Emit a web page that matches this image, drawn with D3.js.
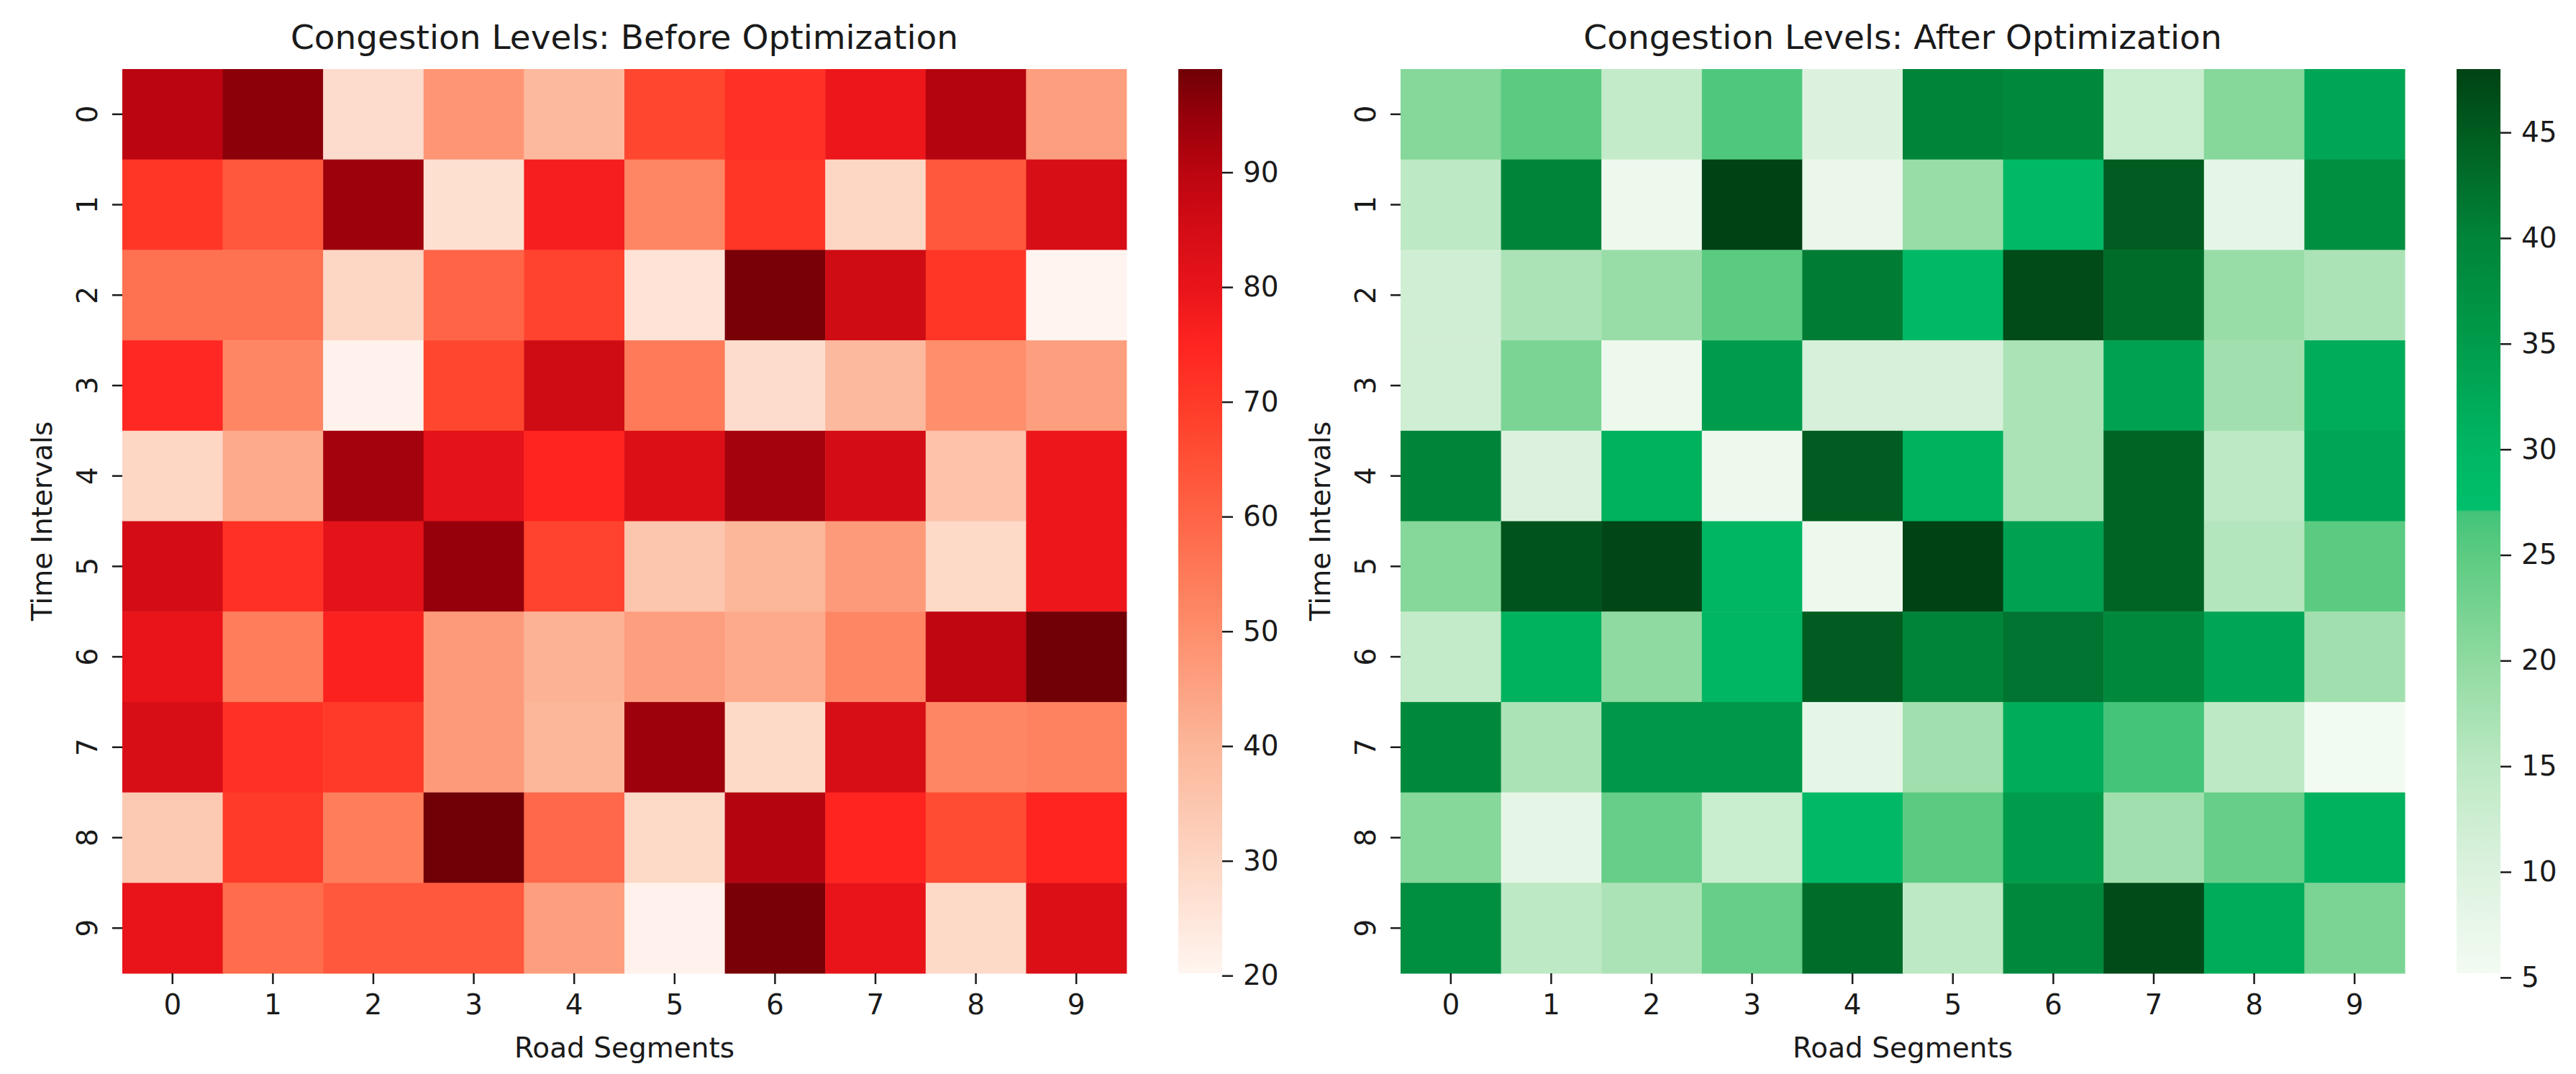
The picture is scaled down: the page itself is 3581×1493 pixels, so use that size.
<!DOCTYPE html>
<html>
<head>
<meta charset="utf-8">
<script src="https://cdn.jsdelivr.net/npm/d3@7"></script>
<style>
  body { margin: 0; background: #fff; }
  text { font-family: "DejaVu Sans", sans-serif; fill: #1a1a1a; }
</style>
</head>
<body>
<div id="chart"></div>
<script>
// Dados
var segments = [0, 1, 2, 3, 4, 5, 6, 7, 8, 9];
var intervals = [0, 1, 2, 3, 4, 5, 6, 7, 8, 9];

var before = [
  [90, 96, 28, 48, 39, 67, 72, 79, 91, 46],
  [71, 63, 94, 27, 77, 52, 71, 30, 63, 84],
  [57, 57, 30, 60, 68, 26, 98, 86, 71, 20.2],
  [74, 52, 21, 67, 86, 55, 28, 39, 50, 46],
  [30, 43, 93, 81, 75, 83, 93, 85, 36, 79],
  [85, 72, 81, 95, 68, 35, 40, 47, 29, 79],
  [80, 54, 76, 47, 41, 46, 43, 52, 89, 99],
  [84, 72, 70, 47, 40, 94, 29, 84, 52, 53],
  [34, 70, 54, 99, 59, 29, 91, 75, 66, 75],
  [80, 58, 63, 63, 46, 21, 98, 80, 29, 83]
];

var after = [
  [21, 25, 14, 26, 10, 40, 39, 13, 21, 33],
  [15, 40, 6, 48, 7, 19, 29, 45, 8, 38],
  [12, 17, 19, 25, 41, 29, 47, 43, 19, 17],
  [12, 22, 6, 35, 11, 11, 17, 34, 18, 32],
  [40, 10, 31, 6, 45, 31, 17, 44, 15, 33],
  [21, 46, 47.5, 30, 6, 48, 34, 44, 16, 25],
  [14, 31, 20, 30, 45, 40, 42, 39, 33, 18],
  [39, 17, 36, 36, 8, 18, 32, 27, 15, 5.2],
  [21, 8, 24, 13, 29, 25, 35, 18, 24, 31],
  [38, 15, 17, 24, 43, 15, 39, 47, 32, 22]
];

var beforeTicks = [20, 30, 40, 50, 60, 70, 80, 90];
var afterTicks = [5, 10, 15, 20, 25, 30, 35, 40, 45];

// Escalas de cor (amostradas da barra de cores)
var redStops = [20, 25, 30, 35, 40, 45, 50, 55, 60, 65, 70, 75, 80, 85, 90, 95, 99];
var redColors = ["#fff5f0", "#fee6da", "#fdd6c4", "#fcc6ae", "#fcb699", "#fda283", "#fe8e6c",
  "#fe7a58", "#ff6446", "#ff5036", "#ff3a28", "#ff2420", "#e8141a", "#d40c15", "#bb0510", "#95000a", "#700006"];
var greenStops = [5, 10, 15, 20, 25, 27.05, 27.15, 30, 35, 40, 45, 48];
var greenColors = ["#f3fbf2", "#dcf2df", "#bde9c4", "#8fdaa0", "#5ccb82", "#42c479", "#00bf6c",
  "#00b663", "#009c4b", "#00843a", "#005c20", "#004214"];

var W = 3581, H = 1493;
var top0 = 96, hmH = 1257, hmW = 1396;

var svg = d3.select("#chart").append("svg")
  .attr("width", W)
  .attr("height", H);

function heatmap(data, left, title, stops, colors, ticks, id) {
  var g = svg.append("g").attr("transform", "translate(" + left + "," + top0 + ")");

  var x = d3.scaleBand().domain(segments).range([0, hmW]);
  var y = d3.scaleBand().domain(intervals).range([0, hmH]);

  var flat = [];
  data.forEach(function(row, i) {
    row.forEach(function(v, j) { flat.push({r: intervals[i], c: segments[j], v: v}); });
  });
  var ext = d3.extent(flat, function(d) { return d.v; });

  var color = d3.scaleLinear().domain(stops).range(colors).interpolate(d3.interpolateRgb).clamp(true);

  // Celulas
  g.selectAll("rect.cell")
    .data(flat)
    .enter()
    .append("rect")
    .attr("class", "cell")
    .attr("x", function(d) { return x(d.c); })
    .attr("y", function(d) { return y(d.r); })
    .attr("width", x.bandwidth() + 0.5)
    .attr("height", y.bandwidth() + 0.5)
    .attr("fill", function(d) { return color(d.v); });

  // Eixos
  var xAxis = g.append("g")
    .attr("transform", "translate(0," + hmH + ")")
    .call(d3.axisBottom(x).tickSize(15).tickPadding(14));
  xAxis.select(".domain").remove();
  xAxis.selectAll("line").attr("stroke", "#1a1a1a").attr("stroke-width", 2.5);
  xAxis.selectAll("text").attr("font-size", "39px").attr("fill", "#1a1a1a");

  var yAxis = g.append("g")
    .call(d3.axisLeft(y).tickSize(14).tickPadding(0));
  yAxis.select(".domain").remove();
  yAxis.selectAll("line").attr("stroke", "#1a1a1a").attr("stroke-width", 2.5);
  yAxis.selectAll("text")
    .attr("font-size", "39px")
    .attr("fill", "#1a1a1a")
    .attr("x", 0)
    .attr("y", -35)
    .attr("dy", 0)
    .attr("text-anchor", "middle")
    .attr("transform", "rotate(-90)");

  // Titulo e labels
  g.append("text")
    .attr("x", hmW / 2)
    .attr("y", 68 - top0)
    .attr("text-anchor", "middle")
    .attr("font-size", "47px")
    .text(title);
  g.append("text")
    .attr("x", hmW / 2)
    .attr("y", 1470 - top0)
    .attr("text-anchor", "middle")
    .attr("font-size", "39px")
    .text("Road Segments");
  g.append("text")
    .attr("transform", "translate(-98," + (hmH / 2) + ") rotate(-90)")
    .attr("text-anchor", "middle")
    .attr("font-size", "39px")
    .text("Time Intervals");

  // Barra de cores
  var cbX = hmW + 72, cbW = 61;
  var grad = svg.append("defs").append("linearGradient")
    .attr("id", id)
    .attr("x1", 0).attr("y1", 1).attr("x2", 0).attr("y2", 0);
  stops.forEach(function(s, i) {
    var off = (s - ext[0]) / (ext[1] - ext[0]);
    grad.append("stop")
      .attr("offset", Math.max(0, Math.min(1, off)))
      .attr("stop-color", colors[i]);
  });
  g.append("rect")
    .attr("x", cbX)
    .attr("y", 0)
    .attr("width", cbW)
    .attr("height", hmH)
    .attr("fill", "url(#" + id + ")");

  var cbScale = d3.scaleLinear().domain(ext).range([hmH, 0]);
  var cbAxis = g.append("g")
    .attr("transform", "translate(" + (cbX + cbW) + ",0)")
    .call(d3.axisRight(cbScale).tickValues(ticks).tickSize(15).tickPadding(14));
  cbAxis.select(".domain").remove();
  cbAxis.selectAll("line").attr("stroke", "#1a1a1a").attr("stroke-width", 2.5);
  cbAxis.selectAll("text").attr("font-size", "39px").attr("fill", "#1a1a1a");
}

heatmap(before, 170, "Congestion Levels: Before Optimization", redStops, redColors, beforeTicks, "gradRed");
heatmap(after, 1947, "Congestion Levels: After Optimization", greenStops, greenColors, afterTicks, "gradGreen");
</script>
</body>
</html>
